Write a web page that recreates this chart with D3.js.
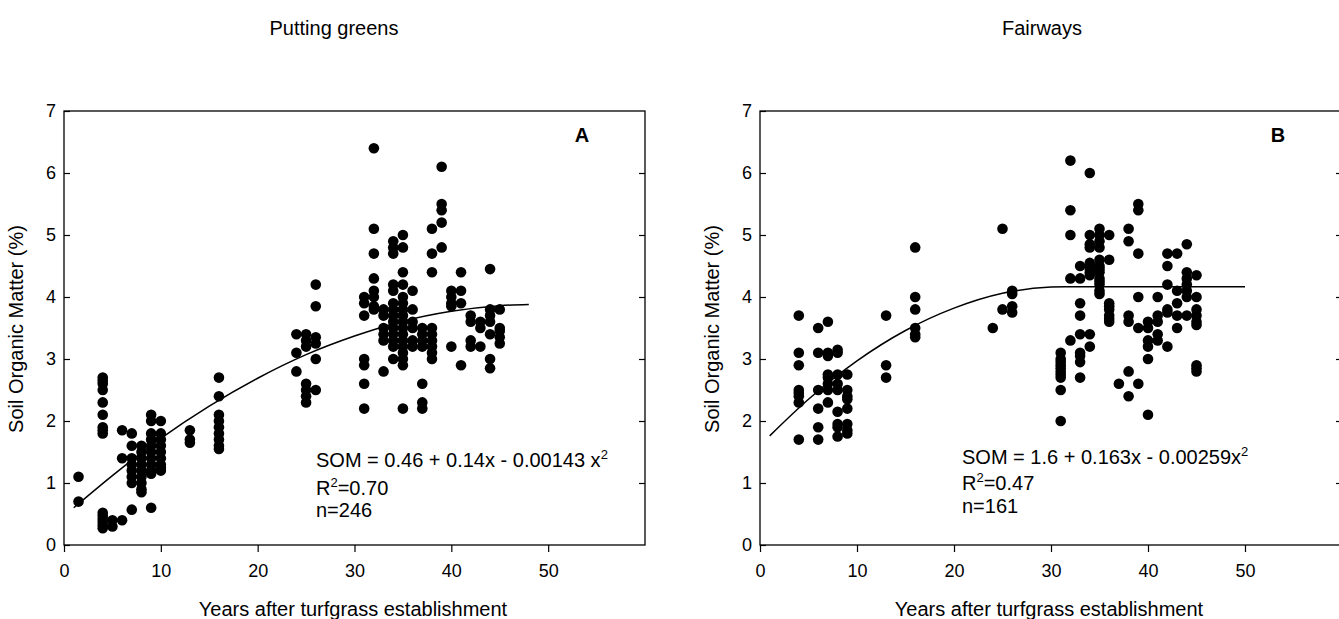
<!DOCTYPE html>
<html>
<head>
<meta charset="utf-8">
<script src="https://cdnjs.cloudflare.com/ajax/libs/d3/7.8.5/d3.min.js"></script>
<style>
  body { margin: 0; background: #fff; }
  text { font-family: "Liberation Sans", Arial, sans-serif; fill: #000; }
</style>
</head>
<body>
<div id="chart"></div>
<script>
var svgWidth = 1339;
var svgHeight = 619;

// Putting greens: years after establishment, and the SOM readings at each year
var greensYears = [1.5, 4, 5, 6, 7, 8, 9, 10, 13, 16, 24, 25, 26, 31, 32, 33, 34, 35, 36, 37, 38, 39, 40, 41, 42, 43, 44, 45];
var greensSom = [
  [1.1, 0.7],
  [2.7, 2.65, 2.6, 2.5, 2.3, 2.1, 1.9, 1.85, 1.8, 0.52, 0.47, 0.42, 0.37, 0.32, 0.27],
  [0.4, 0.3],
  [1.85, 1.4, 0.4],
  [1.8, 1.6, 1.4, 1.3, 1.2, 1.1, 1.0, 0.57],
  [1.6, 1.5, 1.4, 1.3, 1.2, 1.1, 1.0, 0.9, 0.85],
  [2.1, 2.0, 1.8, 1.7, 1.6, 1.5, 1.4, 1.3, 1.2, 1.15, 0.6],
  [2.0, 1.8, 1.7, 1.6, 1.5, 1.4, 1.3, 1.25, 1.2],
  [1.85, 1.7, 1.65],
  [2.7, 2.4, 2.1, 2.0, 1.9, 1.8, 1.7, 1.6, 1.55],
  [3.4, 3.1, 2.8],
  [3.4, 3.3, 3.2, 2.6, 2.5, 2.4, 2.3],
  [4.2, 3.85, 3.35, 3.25, 3.0, 2.5],
  [4.0, 3.9, 3.7, 3.0, 2.9, 2.6, 2.2],
  [6.4, 5.1, 4.7, 4.3, 4.1, 4.0, 3.85, 3.8],
  [3.8, 3.7, 3.5, 3.4, 3.3, 2.8],
  [4.9, 4.8, 4.7, 4.2, 4.1, 3.9, 3.8, 3.7, 3.6, 3.5, 3.4, 3.3, 3.2, 3.0],
  [5.0, 4.8, 4.4, 4.2, 4.0, 3.9, 3.8, 3.7, 3.6, 3.5, 3.4, 3.3, 3.2, 3.1, 3.0, 2.9, 2.2],
  [4.1, 3.8, 3.6, 3.5, 3.3, 3.2],
  [3.5, 3.4, 3.3, 3.2, 2.6, 2.3, 2.2],
  [5.1, 4.7, 4.4, 3.5, 3.4, 3.3, 3.2, 3.1, 3.0],
  [6.1, 5.5, 5.4, 5.2, 4.8],
  [4.1, 4.0, 3.9, 3.85, 3.2],
  [4.4, 4.1, 3.9, 2.9],
  [3.7, 3.6, 3.3, 3.2],
  [3.6, 3.5, 3.2],
  [4.45, 3.8, 3.7, 3.6, 3.4, 3.0, 2.85],
  [3.8, 3.5, 3.45, 3.35, 3.25]
];
// fitted curve
var greensFitX = [1, 5, 10, 15, 20, 25, 30, 35, 40, 45, 48];
var greensFitY = [0.6, 1.12, 1.72, 2.24, 2.69, 3.07, 3.37, 3.61, 3.77, 3.86, 3.88];

// Fairways
var fairwayYears = [4, 6, 7, 8, 9, 13, 16, 24, 25, 26, 31, 32, 33, 34, 35, 36, 37, 38, 39, 40, 41, 42, 43, 44, 45];
var fairwaySom = [
  [3.7, 3.1, 2.9, 2.5, 2.45, 2.4, 2.3, 1.7],
  [3.5, 3.1, 2.5, 2.2, 1.9, 1.7],
  [3.6, 3.1, 3.05, 2.75, 2.7, 2.6, 2.5, 2.3],
  [3.15, 3.1, 2.75, 2.6, 2.5, 2.15, 1.95, 1.9, 1.75],
  [2.75, 2.5, 2.4, 2.35, 2.2, 1.95, 1.85, 1.8],
  [3.7, 2.9, 2.7],
  [4.8, 4.0, 3.8, 3.5, 3.4, 3.35],
  [3.5],
  [5.1, 3.8],
  [4.1, 4.05, 3.85, 3.75],
  [3.1, 3.0, 2.95, 2.9, 2.85, 2.8, 2.75, 2.7, 2.5, 2.0],
  [6.2, 5.4, 5.0, 4.3, 3.3],
  [4.5, 4.3, 3.9, 3.7, 3.4, 3.1, 3.05, 2.95, 2.7],
  [6.0, 5.0, 4.85, 4.8, 4.55, 4.5, 4.45, 4.4, 4.35, 3.4, 3.2],
  [5.1, 5.0, 4.9, 4.8, 4.6, 4.5, 4.45, 4.4, 4.3, 4.25, 4.2, 4.1, 4.05],
  [5.0, 4.6, 3.9, 3.85, 3.8, 3.7, 3.65, 3.6],
  [2.6],
  [5.1, 4.9, 3.7, 3.6, 2.8, 2.4],
  [5.5, 5.4, 4.7, 4.0, 3.5, 2.6],
  [3.6, 3.5, 3.3, 3.2, 3.0, 2.1],
  [4.0, 3.7, 3.6, 3.4, 3.3],
  [4.7, 4.5, 4.2, 3.8, 3.75, 3.2],
  [4.7, 4.1, 3.9, 3.7, 3.5],
  [4.85, 4.4, 4.3, 4.2, 4.1, 4.0, 3.7],
  [4.35, 4.0, 3.8, 3.7, 3.6, 3.55, 2.9, 2.85, 2.8]
];
var fairwayFitX = [1, 5, 10, 15, 20, 25, 30, 31.5, 50];
var fairwayFitY = [1.76, 2.35, 2.97, 3.46, 3.82, 4.06, 4.16, 4.165, 4.165];

var xTicks = [0, 10, 20, 30, 40, 50];
var yTicks = [0, 1, 2, 3, 4, 5, 6, 7];

var svg = d3.select("#chart")
  .append("svg")
  .attr("width", svgWidth)
  .attr("height", svgHeight);

var plotTop = 111;
var plotBottom = 545;

function drawPanel(p) {
  var x = d3.scaleLinear().domain([0, 60]).range([p.left, p.left + p.width]);
  var y = d3.scaleLinear().domain([0, 7]).range([plotBottom, plotTop]);

  var g = svg.append("g");

  // frame
  g.append("rect")
    .attr("x", x(0))
    .attr("y", y(7))
    .attr("width", x(60) - x(0))
    .attr("height", y(0) - y(7))
    .attr("fill", "none")
    .attr("stroke", "#000")
    .attr("stroke-width", 1.3);

  // axes
  var bottomAxis = d3.axisBottom(x).tickValues(xTicks).tickSize(7).tickSizeOuter(0).tickPadding(12);
  var leftAxis = d3.axisLeft(y).tickValues(yTicks).tickSize(-6).tickSizeOuter(0).tickPadding(8)
    .tickFormat(d3.format("d"));
  var rightAxis = d3.axisRight(y).tickValues(yTicks.slice(1, 7)).tickSize(-6).tickSizeOuter(0).tickFormat("");

  var xAxis = g.append("g")
    .attr("transform", `translate(0, ${y(0)})`)
    .call(bottomAxis);
  var yAxis = g.append("g")
    .attr("transform", `translate(${x(0)}, 0)`)
    .call(leftAxis);
  g.append("g")
    .attr("transform", `translate(${x(60)}, 0)`)
    .call(rightAxis);

  g.selectAll(".domain").remove();
  g.selectAll(".tick line").attr("stroke", "#000").attr("stroke-width", 1.2);
  xAxis.selectAll("text").style("font-size", "18px").attr("fill", "#000");
  yAxis.selectAll("text").style("font-size", "18px").attr("fill", "#000");

  // points
  var pts = [];
  p.years.forEach(function(yr, i) {
    p.som[i].forEach(function(v) { pts.push([yr, v]); });
  });

  g.selectAll("circle")
    .data(pts)
    .enter()
    .append("circle")
    .attr("cx", d => x(d[0]))
    .attr("cy", d => y(d[1]))
    .attr("r", 5.3)
    .attr("fill", "#000");

  // fitted curve
  var fit = p.fitX.map((v, i) => [v, p.fitY[i]]);
  var line = d3.line()
    .x(d => x(d[0]))
    .y(d => y(d[1]))
    .curve(d3.curveMonotoneX);

  g.append("path")
    .attr("d", line(fit))
    .attr("fill", "none")
    .attr("stroke", "#000")
    .attr("stroke-width", 1.5);

  // titles
  g.append("text")
    .attr("x", p.titleX)
    .attr("y", 35)
    .attr("text-anchor", "middle")
    .style("font-size", "20px")
    .text(p.title);

  g.append("text")
    .attr("x", p.xlabX)
    .attr("y", 616)
    .attr("text-anchor", "middle")
    .style("font-size", "20px")
    .text("Years after turfgrass establishment");

  g.append("text")
    .attr("transform", `translate(${p.ylabX}, 329) rotate(-90)`)
    .attr("text-anchor", "middle")
    .style("font-size", "20px")
    .text("Soil Organic Matter (%)");

  g.append("text")
    .attr("x", p.letterX)
    .attr("y", 142)
    .attr("text-anchor", "middle")
    .style("font-size", "20px")
    .style("font-weight", "bold")
    .text(p.letter);

  // equation block
  var eq = g.append("text")
    .attr("x", p.eqX)
    .attr("y", p.eqY[0])
    .style("font-size", "20px");
  eq.append("tspan").text(p.eq);
  eq.append("tspan").attr("dy", -8).style("font-size", "13px").text("2");

  var r2 = g.append("text")
    .attr("x", p.eqX)
    .attr("y", p.eqY[1])
    .style("font-size", "20px");
  r2.append("tspan").text("R");
  r2.append("tspan").attr("dy", -8).style("font-size", "13px").text("2");
  r2.append("tspan").attr("dy", 8).text(p.r2);

  g.append("text")
    .attr("x", p.eqX)
    .attr("y", p.eqY[2])
    .style("font-size", "20px")
    .text(p.n);
}

drawPanel({
  left: 64, width: 581,
  title: "Putting greens", titleX: 334, xlabX: 353, ylabX: 23, letter: "A", letterX: 582,
  years: greensYears, som: greensSom, fitX: greensFitX, fitY: greensFitY,
  eq: "SOM = 0.46 + 0.14x - 0.00143 x", r2: "=0.70", n: "n=246",
  eqX: 316, eqY: [467, 495, 517]
});

drawPanel({
  left: 760, width: 582,
  title: "Fairways", titleX: 1042, xlabX: 1049, ylabX: 719, letter: "B", letterX: 1278,
  years: fairwayYears, som: fairwaySom, fitX: fairwayFitX, fitY: fairwayFitY,
  eq: "SOM = 1.6 + 0.163x - 0.00259x", r2: "=0.47", n: "n=161",
  eqX: 962, eqY: [464, 490, 513]
});
</script>
</body>
</html>
